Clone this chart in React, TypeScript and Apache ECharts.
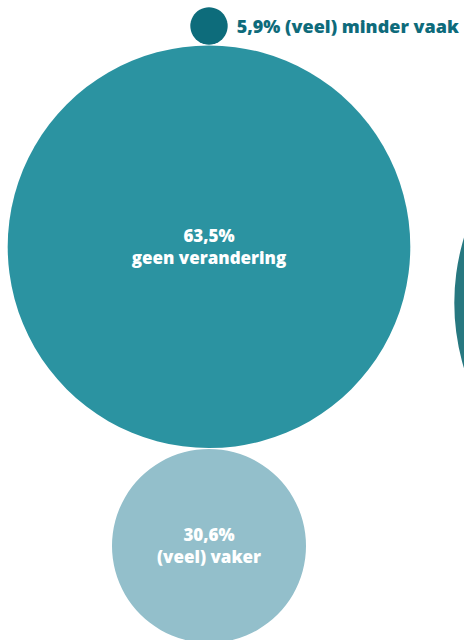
import React, { useEffect, useRef } from "react";
import * as echarts from "echarts";

// Data
const categories = ["(veel) minder vaak", "geen verandering", "(veel) vaker"];
const values = [5.9, 63.5, 30.6];
const labelText = ["5,9% (veel) minder vaak", "63,5%\ngeen verandering", "30,6%\n(veel) vaker"];
// partially visible bubble of a neighbouring group (value estimated)
const otherValues = [71];

// Style / layout constants
const W = 464;
const H = 640;
const PX_PER_PCT = 201.3 / 63.5; // radius scale: radius proportional to value
const TOP = 7.3;
const CX = 209;
const GAP = 0.8;
const SIDE_GAP = 44;
const colors = ["#0d6c7b", "#2b93a1", "#93bfcb"];
const otherColor = "#277880";
const FONT = "'Open Sans', 'Noto Sans', sans-serif";

export default function App() {
  const ref = useRef<HTMLDivElement>(null);
  useEffect(() => {
    if (!ref.current) return;
    const chart = echarts.init(ref.current, null, { renderer: "svg" });
    const radii = values.map((v) => v * PX_PER_PCT);
    let y = TOP;
    const data = values.map((v, i) => {
      const cy = y + radii[i];
      y += 2 * radii[i] + GAP;
      const isSmall = i === 0;
      return {
        name: categories[i],
        value: [CX, cy, v],
        symbolSize: 2 * radii[i],
        itemStyle: { color: colors[i], opacity: 1 },
        label: isSmall
          ? {
              show: true,
              position: "right",
              distance: 9,
              formatter: labelText[i],
              color: "#0e6b7b",
              fontSize: 18,
              fontWeight: 800,
              fontFamily: FONT,
            }
          : {
              show: true,
              position: "inside",
              formatter: labelText[i],
              color: "#ffffff",
              fontSize: 17,
              lineHeight: 22,
              fontWeight: 800,
              fontFamily: FONT,
              align: "center",
            },
      };
    });
    const otherR = otherValues[0] * PX_PER_PCT;
    const otherData = otherValues.map((v) => ({
      name: "other",
      value: [CX + radii[1] + SIDE_GAP + otherR, 303, v],
      symbolSize: 2 * v * PX_PER_PCT,
      itemStyle: { color: otherColor, opacity: 1 },
    }));
    chart.setOption({
      animation: false,
      grid: { left: 0, right: 0, top: 0, bottom: 0 },
      xAxis: { type: "value", min: 0, max: W, show: false },
      yAxis: { type: "value", min: 0, max: H, inverse: true, show: false },
      series: [
        {
          type: "scatter",
          clip: false,
          symbol: "circle",
          data: otherData,
          label: { show: false },
          emphasis: { disabled: true },
        },
        {
          type: "scatter",
          clip: false,
          symbol: "circle",
          data,
          emphasis: { disabled: true },
        },
      ],
    });
    return () => chart.dispose();
  }, []);
  return (
    <div
      ref={ref}
      style={{ position: "absolute", left: 0, top: 0, width: W, height: H, background: "#ffffff" }}
    />
  );
}
